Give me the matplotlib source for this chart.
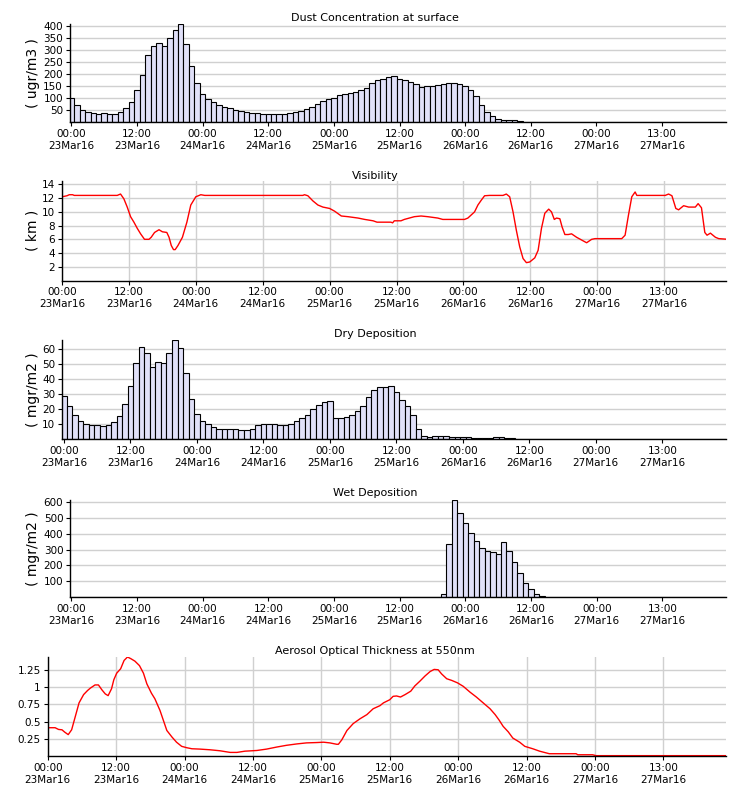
import matplotlib
matplotlib.use('Agg')
import matplotlib.pyplot as plt
import numpy as np

# hours since 00:00 23Mar16
tick_hours = [0, 12, 24, 36, 48, 60, 72, 84, 96, 108]
tick_labels = ['00:00\n23Mar16', '12:00\n23Mar16', '00:00\n24Mar16', '12:00\n24Mar16',
               '00:00\n25Mar16', '12:00\n25Mar16', '00:00\n26Mar16', '12:00\n26Mar16',
               '00:00\n27Mar16', '13:00\n27Mar16']

hours = np.arange(120)

dust = [98, 70, 50, 41, 37, 33, 37, 33, 33, 41, 58, 83,
        133, 195, 278, 315, 328, 315, 348, 382, 407, 324, 232, 162,
        116, 95, 83, 70, 62, 58, 50, 46, 41, 37, 37, 33,
        33, 33, 33, 33, 37, 41, 46, 54, 62, 75, 87, 95,
        100, 112, 116, 120, 124, 133, 141, 162, 174, 178, 187, 191,
        178, 174, 166, 158, 145, 149, 149, 153, 158, 162, 162, 158,
        149, 133, 108, 70, 40, 25, 12, 8, 8, 8, 4, 0] + [0] * 36

dry = [28.8, 22.2, 16.2, 12.0, 10.2, 9.6, 9.6, 8.9, 9.6, 11.3, 15.5, 23.5,
       35.2, 50.5, 61.1, 57.1, 47.8, 51.1, 50.5, 57.1, 65.7, 60.6, 44.0, 26.8,
       16.6, 12.0, 10.0, 8.0, 6.7, 6.7, 6.7, 6.7, 6.0, 6.0, 6.7, 9.6,
       10.0, 10.0, 10.0, 9.6, 9.6, 10.0, 12.0, 14.0, 16.2, 20.0, 22.8, 24.6,
       25.5, 14.0, 14.0, 14.7, 16.2, 18.6, 22.2, 28.1, 32.5, 34.5, 34.5, 35.2,
       31.2, 25.9, 22.2, 16.2, 6.7, 2.0, 1.4, 2.0, 2.0, 2.0, 1.4, 1.4,
       1.4, 1.4, 0.7, 0.7, 0.7, 0.7, 1.4, 1.4, 0.7, 0.7, 0, 0] + [0] * 36

wet = [0] * 68 + [20, 334, 615, 530, 467, 404, 353, 310, 290, 284, 271, 347,
                  290, 220, 150, 87, 49, 20, 5] + [0] * 33

vis_hours = [0, 0.9, 1.3, 1.9, 2.2, 9.9, 10.5, 11.1, 11.7, 12.3, 12.9, 13.5, 14.1,
             14.8, 15.6, 16.0, 16.6, 17.4, 18.0, 18.8, 19.2, 19.6, 20.0, 20.3, 20.8,
             21.6, 22.4, 23.1, 24.0, 24.9, 25.6, 43.2, 43.5, 44.1, 45.0, 45.9, 46.8,
             48.0, 48.9, 50.1, 51.3, 53.1, 54.3, 55.8, 56.5, 59.0, 59.3, 59.6, 60.8,
             61.4, 63.2, 64.4, 65.6, 67.4, 68.3, 72.2, 72.8, 74.0, 74.6, 75.2, 75.8,
             76.7, 79.1, 79.7, 80.3, 80.9, 81.5, 82.1, 82.7, 83.3, 83.9, 84.8, 85.4,
             86.0, 86.6, 87.3, 87.8, 88.3, 88.7, 89.3, 89.7, 90.2, 90.8, 91.4, 92.3,
             93.2, 94.1, 95.0, 95.6, 100.4, 101.0, 101.6, 102.2, 102.8, 103.1, 108.2,
             108.8, 109.4, 110.1, 110.6, 111.5, 112.4, 113.6, 114.1, 114.7, 115.3,
             115.7, 116.3, 117.2, 117.8, 119.5]
vis_km = [12.2, 12.35, 12.5, 12.5, 12.4, 12.4, 12.6, 11.9, 10.7, 9.3, 8.5, 7.6, 6.8,
          6.0, 6.0, 6.3, 7.0, 7.4, 7.1, 7.0, 6.3, 5.1, 4.5, 4.5, 5.1,
          6.3, 8.5, 11.0, 12.2, 12.5, 12.4, 12.4, 12.5, 12.35, 11.6, 11.0, 10.7,
          10.5, 10.1, 9.4, 9.3, 9.1, 8.9, 8.7, 8.5, 8.5, 8.4, 8.7, 8.7,
          8.9, 9.3, 9.4, 9.3, 9.1, 8.9, 8.9, 9.1, 10.0, 11.0, 11.7, 12.35,
          12.4, 12.4, 12.6, 12.2, 10.0, 7.3, 4.9, 3.2, 2.6, 2.7, 3.3, 4.4,
          7.6, 9.8, 10.4, 10.0, 8.9, 9.1, 9.0, 7.8, 6.7, 6.7, 6.8, 6.3,
          5.9, 5.5, 6.0, 6.1, 6.1, 6.6, 9.5, 12.2, 12.9, 12.4, 12.4,
          12.6, 12.35, 10.5, 10.3, 10.9, 10.7, 10.7, 11.2, 10.6, 7.0,
          6.6, 6.9, 6.3, 6.1, 6.0]

aot_hours = [0, 1.3, 1.9, 2.5, 3.0, 3.6, 4.2, 4.8, 5.5, 6.3, 7.0, 7.5, 8.3, 8.9, 9.5,
             10.1, 10.6, 11.2, 11.6, 12.1, 12.8, 13.4, 14.0, 14.6, 15.3, 16.1, 16.8,
             17.4, 18.2, 18.8, 19.7, 20.3, 20.9, 21.8, 22.6, 23.5, 24.4, 25.3, 26.7,
             28.5, 30.2, 32.0, 33.2, 34.6, 36.7, 38.4, 40.2, 41.9, 43.7, 45.4, 47.2,
             48.4, 49.5, 50.7, 51.0, 51.6, 52.5, 53.6, 54.8, 56.0, 57.1, 58.3, 58.9,
             60.0, 60.6, 61.2, 61.9, 62.7, 63.7, 64.4, 65.3, 66.2, 67.1, 67.8, 68.5,
             69.1, 70.0, 70.9, 71.9, 72.9, 74.1, 75.2, 76.4, 77.6, 78.5, 79.2, 79.9,
             80.8, 81.6, 82.8, 83.7, 85.1, 86.3, 88.0, 92.7, 93.0, 95.6, 96.2, 119.0]
aot = [0.41, 0.41, 0.385, 0.38, 0.345, 0.31, 0.38, 0.56, 0.77, 0.89, 0.95, 0.985, 1.03,
       1.03, 0.96, 0.90, 0.875, 0.975, 1.105, 1.2, 1.265, 1.385, 1.435, 1.41, 1.375,
       1.31, 1.2, 1.045, 0.91, 0.83, 0.66, 0.515, 0.37, 0.275, 0.2, 0.14, 0.12,
       0.105, 0.10, 0.09, 0.076, 0.052, 0.052, 0.07, 0.08, 0.10, 0.13, 0.155, 0.175,
       0.19, 0.195, 0.2, 0.19, 0.17, 0.17, 0.235, 0.37, 0.47, 0.54, 0.60, 0.685,
       0.73, 0.77, 0.815, 0.865, 0.87, 0.855, 0.89, 0.94, 1.015, 1.085, 1.16, 1.225,
       1.255, 1.25, 1.19, 1.12, 1.095, 1.06, 1.01, 0.925, 0.855, 0.77, 0.685, 0.60,
       0.52, 0.43, 0.35, 0.26, 0.2, 0.14, 0.105, 0.07, 0.033, 0.033, 0.018, 0.018,
       0.005, 0.005]

W, H = 750, 800
BAR_COLOR = '#e0e0f8'
GRID_COLOR = '#d0d0d0'

fig = plt.figure(figsize=(W / 100, H / 100), dpi=100)


def make_axes(left, top, bottom, right=726):
    return fig.add_axes([left / W, 1 - bottom / H, (right - left) / W, (bottom - top) / H])


def style(ax, xlim, yticks, ylabels, title, title_y, ylabel=None, vgrid=False):
    ax.set_xlim(*xlim)
    ax.set_xticks(tick_hours)
    ax.set_xticklabels(tick_labels)
    ax.set_yticks(yticks)
    ax.set_yticklabels(ylabels)
    for s in ['top', 'right']:
        ax.spines[s].set_visible(False)
    for s in ['left', 'bottom']:
        ax.spines[s].set_linewidth(1.0)
    ax.tick_params(labelsize=7.5, length=3, width=0.8, pad=2, colors='black')
    ax.set_axisbelow(True)
    ax.grid(True, axis='y', color=GRID_COLOR, linewidth=1)
    if vgrid:
        ax.grid(True, axis='x', color=GRID_COLOR, linewidth=1)
    fig.text(375 / W, 1 - title_y / H, title, ha='center', va='center', fontsize=8)
    if ylabel:
        pos = ax.get_position()
        fig.text(33 / W, (pos.y0 + pos.y1) / 2, ylabel, rotation=90,
                 ha='center', va='center', fontsize=10)


# Dust concentration
ax1 = make_axes(70, 24, 122)
ax1.bar(hours, dust, width=1.0, color=BAR_COLOR, edgecolor='black', linewidth=0.8)
ax1.set_ylim(0, max(dust))
style(ax1, (-0.25, 119.7), range(50, 401, 50), [str(v) for v in range(50, 401, 50)],
      'Dust Concentration at surface', 18, '( ugr/m3 )')

# Visibility
ax2 = make_axes(62, 181, 280.5)
ax2.plot(vis_hours, vis_km, color='red', linewidth=1)
ax2.set_ylim(0, 14.5)
style(ax2, (0, 119.1), range(2, 15, 2), [str(v) for v in range(2, 15, 2)],
      'Visibility', 176, '( km )', vgrid=True)

# Dry deposition
ax3 = make_axes(62.3, 340, 439)
ax3.bar(hours, dry, width=1.0, color=BAR_COLOR, edgecolor='black', linewidth=0.8)
ax3.set_ylim(0, max(dry))
style(ax3, (-0.3, 119.5), range(10, 61, 10), [str(v) for v in range(10, 61, 10)],
      'Dry Deposition', 334, '( mgr/m2 )')

# Wet deposition
ax4 = make_axes(70.3, 500, 597)
ax4.bar(hours, wet, width=1.0, color=BAR_COLOR, edgecolor='black', linewidth=0.8)
ax4.set_ylim(0, max(wet))
style(ax4, (-0.18, 119.6), range(100, 601, 100), [str(v) for v in range(100, 601, 100)],
      'Wet Deposition', 493, '( mgr/m2 )')

# Aerosol optical thickness
ax5 = make_axes(47.7, 657, 756)
ax5.plot(aot_hours, aot, color='red', linewidth=1)
ax5.set_ylim(0, max(aot))
style(ax5, (0, 119.0), [0.25, 0.5, 0.75, 1.0, 1.25], ['0.25', '0.5', '0.75', '1', '1.25'],
      'Aerosol Optical Thickness at 550nm', 651, vgrid=True)

fig.savefig('out.png', dpi=100)
